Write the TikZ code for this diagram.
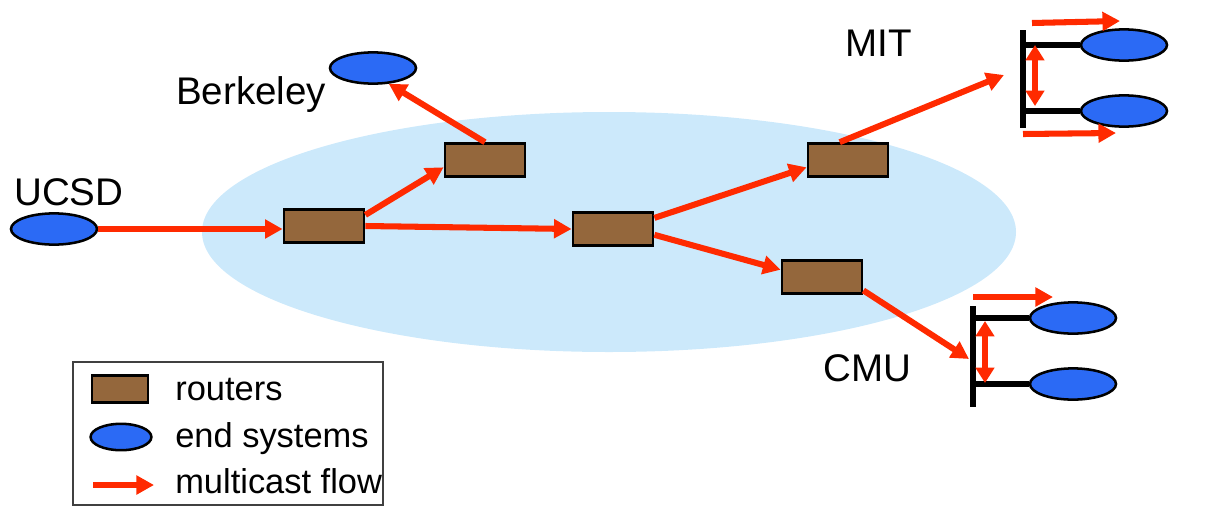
\documentclass[tikz,border=0pt]{standalone}
\usepackage{fontspec}
\setmainfont{Liberation Sans}
\usetikzlibrary{arrows.meta,shapes.geometric}
\definecolor{cloudblue}{HTML}{CCE9FB}
\definecolor{routerbrown}{HTML}{94673C}
\definecolor{hostblue}{HTML}{2B6AF5}
\definecolor{flowred}{HTML}{FF2A00}

\tikzset{
  router/.style={draw=black, line width=2pt, fill=routerbrown,
    minimum width=2.0cm, minimum height=0.82cm, inner sep=0pt},
  host/.style={ellipse, draw=black, line width=1.8pt, fill=hostblue,
    minimum width=2.15cm, minimum height=0.78cm, inner sep=0pt},
  flow/.style={draw=flowred, line width=4.3pt,
    -{Triangle[length=12.5pt, width=13pt]}},
  dflow/.style={draw=flowred, line width=4.3pt,
    {Triangle[length=11pt, width=13pt]}-{Triangle[length=11pt, width=13pt]}},
  bus/.style={draw=black, line width=3.6pt},
  site/.style={inner sep=0pt, anchor=base west, font=\fontsize{27.4}{32}\selectfont},
  legendtext/.style={inner sep=0pt, anchor=base west, font=\fontsize{24.5}{29}\selectfont},
}

\begin{document}
\begin{tikzpicture}[x=0.025cm, y=-0.025cm]
  \useasboundingbox (0,0) rectangle (1216,521);

  % the network
  \fill[cloudblue] (609,232) ellipse [x radius=407, y radius=120];

  % routers
  \node[router] (r1) at (324,226) {};
  \node[router] (r2) at (485,160) {};
  \node[router] (r3) at (613,229) {};
  \node[router] (r4) at (848,160) {};
  \node[router] (r5) at (822,277) {};

  % end systems
  \node[host] (ucsd) at (54,229) {};
  \node[host] (berk) at (373,68) {};
  \node[host] (mit1) at (1124,45) {};
  \node[host] (mit2) at (1124,111) {};
  \node[host] (cmu1) at (1073,318) {};
  \node[host] (cmu2) at (1073,384) {};

  \node[site] (ucsdlbl) at (14,205) {UCSD};
  \node[site] (berklbl) at (176,104) {Berkeley};
  \node[site] (mitlbl) at (845,56) {MIT};
  \node[site] (cmulbl) at (823,381) {CMU};

  % LANs at MIT and CMU
  \coordinate (mittop) at (1023,30);
  \coordinate (mitbot) at (1023,128);
  \coordinate (cmutop) at (973,306);
  \coordinate (cmubot) at (973,407);
  \draw[bus] (mittop) -- (mitbot);
  \draw[bus] (mit1.west -| mittop) -- (mit1.west);
  \draw[bus] (mit2.west -| mittop) -- (mit2.west);
  \draw[bus] (cmutop) -- (cmubot);
  \draw[bus] (cmu1.west -| cmutop) -- (cmu1.west);
  \draw[bus] (cmu2.west -| cmutop) -- (cmu2.west);

  % multicast flow
  \coordinate (mitin) at (1004,75);
  \coordinate (cmuin) at (969,359);
  \draw[flow] (ucsd.east) -- (ucsd.east -| r1.west);
  \draw[flow] (r1.15) -- (r2.190);
  \draw[flow] (r1.east) -- (r3.west);
  \draw[flow] (r2.north) -- (berk.-45);
  \draw[flow] (r3.15) -- (r4.190);
  \draw[flow] (r3.-8) -- (r5.170);
  \draw[flow] (r4.115) -- (mitin);
  \draw[flow] (r5.-18) -- (cmuin);

  \coordinate (mita1) at (1032,23);
  \coordinate (mita2) at (1120,21);
  \coordinate (mitb1) at (1023,134);
  \coordinate (mitb2) at (1116,133);
  \coordinate (mitd1) at (1035,45);
  \coordinate (mitd2) at (1035,106);
  \draw[flow] (mita1) -- (mita2);
  \draw[flow] (mitb1) -- (mitb2);
  \draw[dflow] (mitd1) -- (mitd2);

  \coordinate (cmua1) at (973,297);
  \coordinate (cmua2) at (1053,297);
  \coordinate (cmud1) at (985,321);
  \coordinate (cmud2) at (985,383);
  \draw[flow] (cmua1) -- (cmua2);
  \draw[dflow] (cmud1) -- (cmud2);

  % legend
  \draw[line width=0.8pt, draw=black!75] (73,362) rectangle (383,505);
  \node[router, minimum width=1.4cm, minimum height=0.66cm] (keyrouter) at (120,389) {};
  \node[host, minimum width=1.52cm, minimum height=0.66cm] (keyhost) at (121,437) {};
  \coordinate (keya1) at (93,485);
  \coordinate (keya2) at (154,485);
  \draw[flow] (keya1) -- (keya2);
  \node[legendtext] (keyrouterlbl) at (175,400) {routers};
  \node[legendtext] (keyhostlbl) at (175,447) {end systems};
  \node[legendtext] (keyflowlbl) at (175,493) {multicast flow};
\end{tikzpicture}
\end{document}
